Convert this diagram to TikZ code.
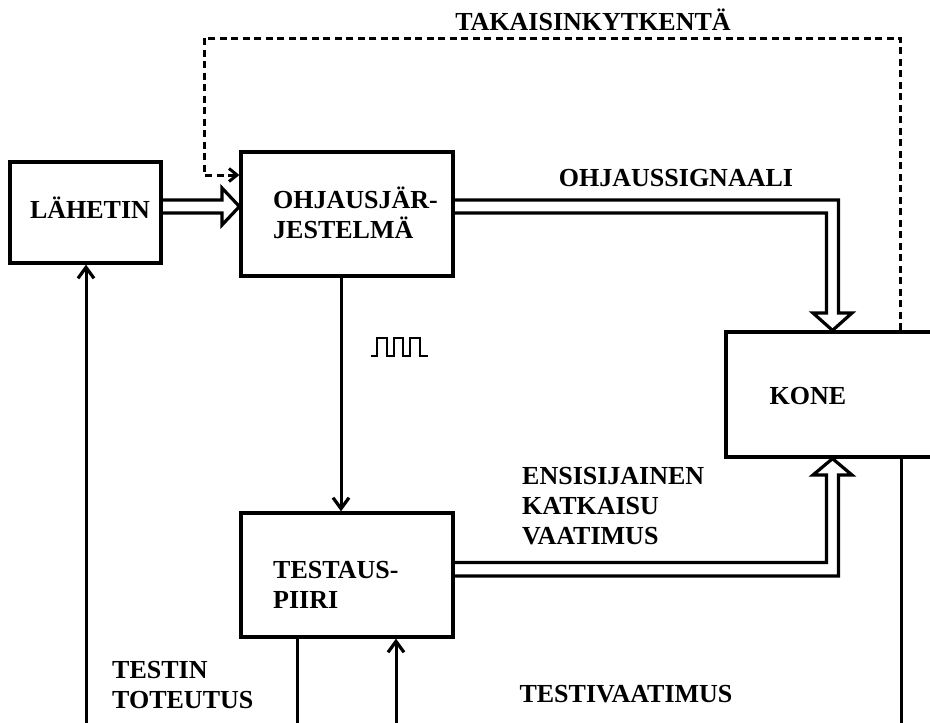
\documentclass[tikz,border=0pt]{standalone}
\usepackage{fontspec}
\setmainfont{Liberation Serif}
\usetikzlibrary{arrows.meta}
\begin{document}
\begin{tikzpicture}[x=1pt,y=-1pt,
  box/.style={draw,line width=3.2pt,rectangle,inner sep=0pt},
  lbl/.style={inner sep=0pt,font=\fontsize{26}{30}\selectfont\bfseries,align=left},
  wire/.style={line width=3pt},
  sarrow/.style={wire,-{Straight Barb[length=11pt,width=16pt,line width=3.2pt]}},
  fatarrow/.style={line width=3.2pt,line join=miter},
  fb/.style={line width=3pt,dash pattern=on 7pt off 4.5pt,-{Straight Barb[length=8pt,width=13pt,line width=3pt]}}]
\useasboundingbox (0,0) rectangle (930,723);

% boxes
\node[box,minimum width=151pt,minimum height=101pt] (lah) at (85.5,212.5) {};
\node[box,minimum width=212pt,minimum height=124pt] (ohj) at (347,214) {};
\node[box,minimum width=212pt,minimum height=124pt] (test) at (347,575) {};
\node[box,minimum width=240pt,minimum height=125pt] (kone) at (846,394.5) {};

% texts
\node[lbl] (lahtxt) at (90,208) {LÄHETIN};
\node[lbl,anchor=west] (ohjtxt) at (273,213) {OHJAUSJÄR-\\JESTELMÄ};
\node[lbl,anchor=west] (testtxt) at (273,585) {TESTAUS-\\PIIRI};
\node[lbl] (konetxt) at (808,396) {KONE};
\node[lbl] (takais) at (593,20) {TAKAISINKYTKENTÄ};
\node[lbl] (ohjsig) at (676,178) {OHJAUSSIGNAALI};
\node[lbl,anchor=west] (ensi) at (522,506) {ENSISIJAINEN\\KATKAISU\\VAATIMUS};
\node[lbl,anchor=west] (toteutus) at (112,685) {TESTIN\\TOTEUTUS};
\node[lbl] (testvaat) at (626,694) {TESTIVAATIMUS};

% hollow double arrow: Lahetin -> Ohjausjarjestelma
\draw[fatarrow] (lah.east |- 0,200) -- (222,200) -- (222,188) -- (ohj.west |- 0,206.5)
   -- (222,225) -- (222,213) -- (lah.east |- 0,213);

% hollow double arrow: Ohjausjarjestelma -> Kone (top)
\draw[fatarrow] (ohj.east |- 0,200) -- (838.5,200) -- (838.5,313) -- (852,313) -- (kone.north -| 832.5,0)
   -- (813,313) -- (826.5,313) -- (826.5,213) -- (ohj.east |- 0,213);

% hollow double arrow: Testauspiiri -> Kone (bottom)
\draw[fatarrow] (test.east |- 0,576) -- (838.5,576) -- (838.5,475) -- (852,475) -- (kone.south -| 832.5,0)
   -- (813,475) -- (826.5,475) -- (826.5,562.5) -- (test.east |- 0,562.5);

% feedback (dashed)
\draw[fb] (kone.north -| 900.5,0) -- (900.5,38) -- (204,38) -- (204,175) -- (ohj.west |- 0,175);

% control pulses
\draw[sarrow] (ohj.south -| 341,0) -- (test.north -| 341,0);
\draw[line width=2.2pt,line join=miter] (371,356) -- (377,356) -- (377,338) -- (387,338) -- (387,356)
  -- (394,356) -- (394,338) -- (403,338) -- (403,356) -- (410,356) -- (410,338) -- (420,338)
  -- (420,356) -- (428,356);

% bottom lines
\coordinate (blah) at (86,723);
\coordinate (btest1) at (297,723);
\coordinate (btest2) at (396,723);
\coordinate (bkone) at (901,723);
\draw[sarrow] (blah) -- (lah.south -| blah);
\draw[wire] (test.south -| btest1) -- (btest1);
\draw[sarrow] (btest2) -- (test.south -| btest2);
\draw[wire] (kone.south -| bkone) -- (bkone);
\end{tikzpicture}
\end{document}
